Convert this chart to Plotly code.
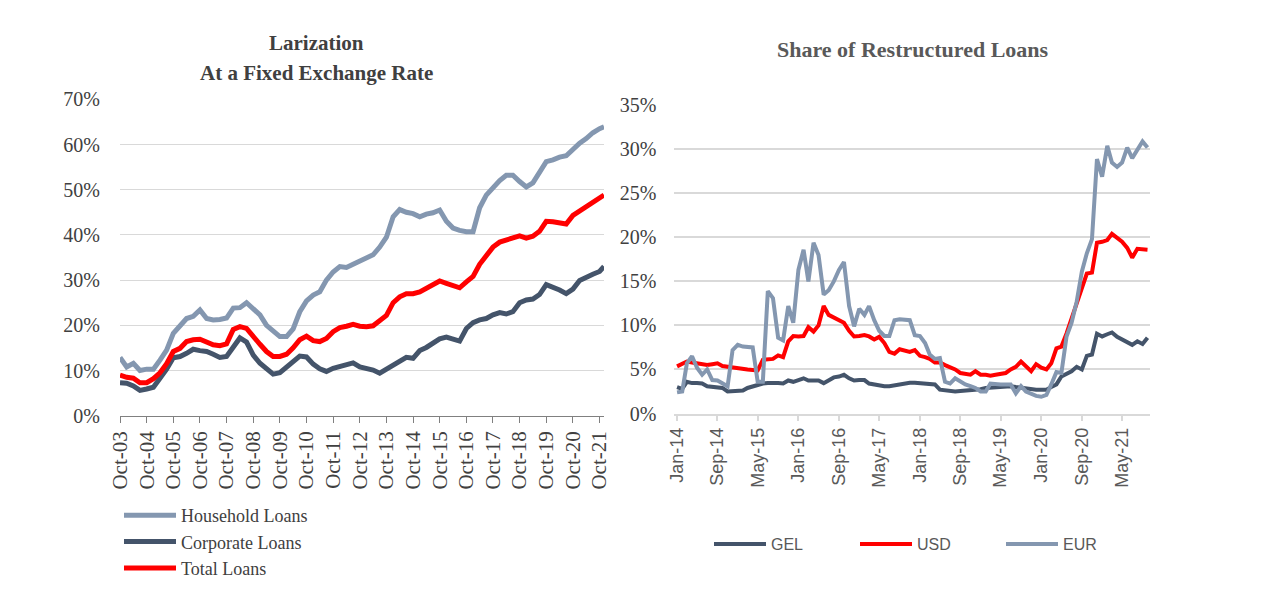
import pandas as pd
import plotly.graph_objects as go

# ---------------- Left chart: Larization at a fixed exchange rate (%) ----------------
left_dates = list(pd.date_range("2003-10-01", "2021-10-01", freq="3MS").strftime("%Y-%m-%d")) + ["2021-12-01"]

household = [12.9, 10.8, 11.6, 10.0, 10.3, 10.3, 12.3, 14.5, 18.2, 19.7, 21.5, 22.0, 23.4, 21.5, 21.2,
             21.3, 21.6, 23.8, 23.9, 25.0, 23.6, 22.3, 20.0, 18.8, 17.5, 17.5, 19.2, 23.0, 25.4, 26.7,
             27.4, 30.0, 31.8, 33.0, 32.8, 33.5, 34.2, 34.8, 35.6, 37.3, 39.5, 44.0, 45.6, 45.0, 44.7,
             44.0, 44.6, 44.9, 45.5, 43.0, 41.5, 41.0, 40.7, 40.7, 46.0, 48.8, 50.5, 52.0, 53.2, 53.2,
             51.8, 50.6, 51.5, 53.6, 56.2, 56.6, 57.2, 57.5, 59.0, 60.3, 61.3, 62.6, 63.5, 63.9]
corporate = [7.3, 7.2, 6.6, 5.6, 5.9, 6.3, 8.3, 10.3, 12.8, 13.1, 13.8, 14.7, 14.4, 14.2, 13.6,
             12.9, 13.1, 15.3, 17.2, 16.3, 13.4, 11.6, 10.5, 9.2, 9.5, 10.8, 11.9, 13.2, 13.0, 11.4,
             10.4, 9.8, 10.5, 11.0, 11.4, 11.7, 10.8, 10.4, 10.1, 9.4, 10.3, 11.4, 12.3, 12.9, 12.7,
             14.4, 15.1, 16.1, 17.0, 17.4, 17.0, 16.5, 19.3, 20.6, 21.2, 21.5, 22.3, 22.8, 22.5, 23.0,
             25.0, 25.6, 25.8, 26.8, 29.0, 28.5, 27.8, 27.0, 28.0, 29.9, 30.7, 31.3, 31.9, 33.0]
total = [9.0, 8.5, 8.3, 7.3, 7.3, 8.2, 9.5, 11.5, 14.2, 14.9, 16.4, 16.8, 16.9, 16.4, 15.7,
         15.5, 15.9, 19.1, 19.7, 19.3, 17.4, 15.8, 14.2, 13.1, 13.1, 13.6, 15.0, 16.8, 17.6, 16.6,
         16.4, 17.1, 18.6, 19.5, 19.8, 20.2, 19.8, 19.7, 19.9, 21.0, 22.2, 25.0, 26.3, 27.0, 27.0,
         27.4, 28.2, 29.1, 29.8, 29.3, 28.9, 28.3, 29.6, 30.8, 33.5, 35.5, 37.3, 38.4, 38.8, 39.3,
         39.8, 39.3, 39.7, 40.8, 43.0, 42.9, 42.6, 42.4, 44.3, 45.3, 46.3, 47.2, 48.1, 48.8]

left_tick_dates = list(pd.date_range("2003-10-01", "2021-10-01", freq="12MS").strftime("%Y-%m-%d"))
left_tick_text = ["Oct-03", "Oct-04", "Oct-05", "Oct-06", "Oct-07", "Oct-08", "Oct-09", "Oct-10",
                  "Oct-11", "Oct-12", "Oct-13", "Oct-14", "Oct-15", "Oct-16", "Oct-17", "Oct-18",
                  "Oct-19", "Oct-20", "Oct-21"]

# ---------------- Right chart: Share of restructured loans (%) ----------------
right_dates = list(pd.date_range("2014-01-01", "2021-10-01", freq="MS").strftime("%Y-%m-%d"))

gel = [3.0, 2.8, 3.6, 3.45, 3.45, 3.4, 3.1, 3.0, 2.95, 2.9, 2.5, 2.5, 2.5, 2.6, 2.9, 3.1,
       3.3, 3.4, 3.45, 3.5, 3.45, 3.4, 3.75, 3.6, 3.8, 4.0, 3.75, 3.75, 3.75, 3.45, 3.8, 4.1,
       4.2, 4.4, 4.0, 3.75, 3.8, 3.8, 3.4, 3.3, 3.1, 3.1, 3.1, 3.2, 3.4, 3.45, 3.5, 3.5,
       3.45, 3.4, 3.35, 3.3, 2.7, 2.6, 2.5, 2.5, 2.55, 2.6, 2.6, 2.6, 2.75, 2.9, 2.95, 3.0,
       3.0, 3.05, 3.1, 3.0, 2.9, 2.8, 2.75, 2.7, 2.7, 2.7, 3.0, 3.3, 4.2, 4.5, 4.8, 5.3,
       5.0, 6.55, 6.7, 9.05, 8.75, 9.0, 9.2, 8.7, 8.4, 8.2, 7.8, 8.2, 7.9, 8.6]
usd = [5.35, 5.6, 5.9, 5.8, 5.7, 5.6, 5.5, 5.6, 5.7, 5.4, 5.3, 5.2, 5.15, 5.1, 5.0, 4.95,
       4.9, 6.1, 6.1, 6.2, 6.6, 6.4, 8.2, 8.8, 8.75, 8.8, 9.8, 9.3, 10.0, 12.2, 11.2, 10.9,
       10.7, 10.3, 9.4, 8.75, 8.8, 8.9, 8.75, 8.4, 8.7, 8.0, 7.0, 6.8, 7.3, 7.1, 7.0, 7.2,
       6.55, 6.4, 6.2, 5.8, 5.8, 5.5, 5.3, 5.0, 4.6, 4.5, 4.4, 4.8, 4.4, 4.4, 4.3, 4.4,
       4.45, 4.6, 5.0, 5.3, 5.9, 5.3, 4.8, 5.6, 5.2, 5.0, 5.7, 7.4, 7.6, 9.1, 10.8, 12.7,
       14.2, 15.9, 16.0, 19.4, 19.5, 19.7, 20.4, 20.0, 19.5, 18.8, 17.7, 18.7, 18.7, 18.6]
eur = [2.4, 2.5, 5.7, 6.5, 5.2, 4.4, 5.0, 3.8, 3.75, 3.4, 3.1, 7.2, 7.8, 7.6, 7.55, 7.5,
       3.6, 3.6, 13.9, 13.1, 8.6, 8.3, 12.2, 10.3, 16.3, 18.6, 15.0, 19.4, 18.0, 13.5, 14.0, 15.0,
       16.3, 17.2, 12.2, 9.9, 11.9, 11.2, 12.2, 10.6, 9.4, 8.8, 8.8, 10.6, 10.7, 10.7, 10.6, 8.9,
       8.8, 8.0, 6.7, 6.2, 6.3, 3.6, 3.4, 4.0, 3.6, 3.3, 3.1, 2.9, 2.5, 2.5, 3.4, 3.3,
       3.3, 3.3, 3.3, 2.3, 3.1, 2.5, 2.2, 2.0, 1.9, 2.1, 3.3, 4.7, 4.6, 8.75, 10.3, 12.7,
       16.1, 18.2, 19.8, 28.9, 26.9, 30.4, 28.5, 28.0, 28.5, 30.2, 29.0, 30.0, 30.9, 30.2]

right_tick_dates = ["2014-01-01", "2014-09-01", "2015-05-01", "2016-01-01", "2016-09-01", "2017-05-01",
                    "2018-01-01", "2018-09-01", "2019-05-01", "2020-01-01", "2020-09-01", "2021-05-01"]
right_tick_text = ["Jan-14", "Sep-14", "May-15", "Jan-16", "Sep-16", "May-17",
                   "Jan-18", "Sep-18", "May-19", "Jan-20", "Sep-20", "May-21"]

for s in (household, corporate, total):
    assert len(s) == len(left_dates)
for s in (gel, usd, eur):
    assert len(s) == len(right_dates)

LIGHT = "#8497B0"
DARK = "#44546A"
RED = "#FF0000"
SERIF = "Liberation Serif"
SANS = "Liberation Sans"
W, H = 1284, 594

fig = go.Figure()
fig.add_trace(go.Scatter(x=left_dates, y=household, name="Household Loans", mode="lines",
                         line=dict(color=LIGHT, width=5), xaxis="x", yaxis="y", legend="legend"))
fig.add_trace(go.Scatter(x=left_dates, y=corporate, name="Corporate Loans", mode="lines",
                         line=dict(color=DARK, width=5), xaxis="x", yaxis="y", legend="legend"))
fig.add_trace(go.Scatter(x=left_dates, y=total, name="Total Loans", mode="lines",
                         line=dict(color=RED, width=5), xaxis="x", yaxis="y", legend="legend"))

fig.add_trace(go.Scatter(x=right_dates, y=gel, name="GEL", mode="lines",
                         line=dict(color=DARK, width=4), xaxis="x2", yaxis="y2", legend="legend2"))
fig.add_trace(go.Scatter(x=right_dates, y=usd, name="USD", mode="lines",
                         line=dict(color=RED, width=4), xaxis="x2", yaxis="y2", legend="legend2"))
fig.add_trace(go.Scatter(x=right_dates, y=eur, name="EUR", mode="lines",
                         line=dict(color=LIGHT, width=4), xaxis="x2", yaxis="y2", legend="legend2"))

fig.update_layout(
    width=W, height=H, autosize=False,
    margin=dict(l=0, r=0, t=0, b=0, autoexpand=False),
    paper_bgcolor="white", plot_bgcolor="white",
    showlegend=True,
    xaxis=dict(domain=[120 / W, 604 / W], type="date", range=["2003-10-01", "2021-12-01"],
               tickmode="array", tickvals=left_tick_dates, ticktext=left_tick_text,
               tickangle=-90, ticks="outside", ticklen=6, tickcolor="#808080", tickwidth=1.3,
               showline=True, linecolor="#808080", linewidth=1.3, showgrid=False, zeroline=False,
               automargin=False,
               tickfont=dict(family=SERIF, size=21, color="#404040"), anchor="y"),
    yaxis=dict(domain=[1 - 415.7 / H, 1 - 99.3 / H], range=[0, 70], dtick=10, ticksuffix="%",
               showgrid=True, gridcolor="#D9D9D9", gridwidth=1, zeroline=False, showline=False,
               automargin=False,
               ticks="", tickfont=dict(family=SERIF, size=20, color="#404040"),
               ticklabelstandoff=19, anchor="x"),
    xaxis2=dict(domain=[674.4 / W, 1150 / W], type="date", range=["2013-12-16", "2021-10-16"],
                tickmode="array", tickvals=right_tick_dates, ticktext=right_tick_text,
                tickangle=-90, ticks="outside", ticklen=5, tickcolor="#D9D9D9", tickwidth=1.5,
                showline=True, linecolor="#D9D9D9", linewidth=2, showgrid=False, zeroline=False,
                automargin=False,
                tickfont=dict(family=SANS, size=18, color="#595959"), anchor="y2"),
    yaxis2=dict(domain=[1 - 413.5 / H, 1 - 105.3 / H], range=[0, 35], dtick=5, ticksuffix="%",
                showgrid=True, gridcolor="#D9D9D9", gridwidth=1.5, zeroline=False, showline=False,
                automargin=False,
                ticks="", tickfont=dict(family=SERIF, size=20, color="#404040"),
                ticklabelstandoff=17, anchor="x2"),
    legend=dict(x=119 / W, y=1 - 497 / H, xanchor="left", yanchor="top", orientation="v",
                font=dict(family=SERIF, size=18, color="#404040"), bgcolor="rgba(0,0,0,0)",
                itemwidth=52, tracegroupgap=0),
    legend2=dict(x=709 / W, y=1 - 544 / H, xanchor="left", yanchor="middle", orientation="h",
                 entrywidth=79, entrywidthmode="pixels",
                 font=dict(family=SANS, size=16, color="#595959"), bgcolor="rgba(0,0,0,0)",
                 itemwidth=52),
    annotations=[
        dict(text="<b>Larization</b>", x=316.5 / W, y=1 - 43 / H, xref="paper", yref="paper",
             showarrow=False, xanchor="center", yanchor="middle",
             font=dict(family=SERIF, size=21, color="#404040")),
        dict(text="<b>At a Fixed Exchange Rate</b>", x=316.5 / W, y=1 - 73 / H, xref="paper", yref="paper",
             showarrow=False, xanchor="center", yanchor="middle",
             font=dict(family=SERIF, size=21, color="#404040")),
        dict(text="<b>Share of Restructured Loans</b>", x=913 / W, y=1 - 49 / H, xref="paper", yref="paper",
             showarrow=False, xanchor="center", yanchor="middle",
             font=dict(family=SERIF, size=22, color="#595959")),
    ],
)

fig.write_html("out.html", config={"displayModeBar": False},
               post_script="document.body.style.margin='0';")
